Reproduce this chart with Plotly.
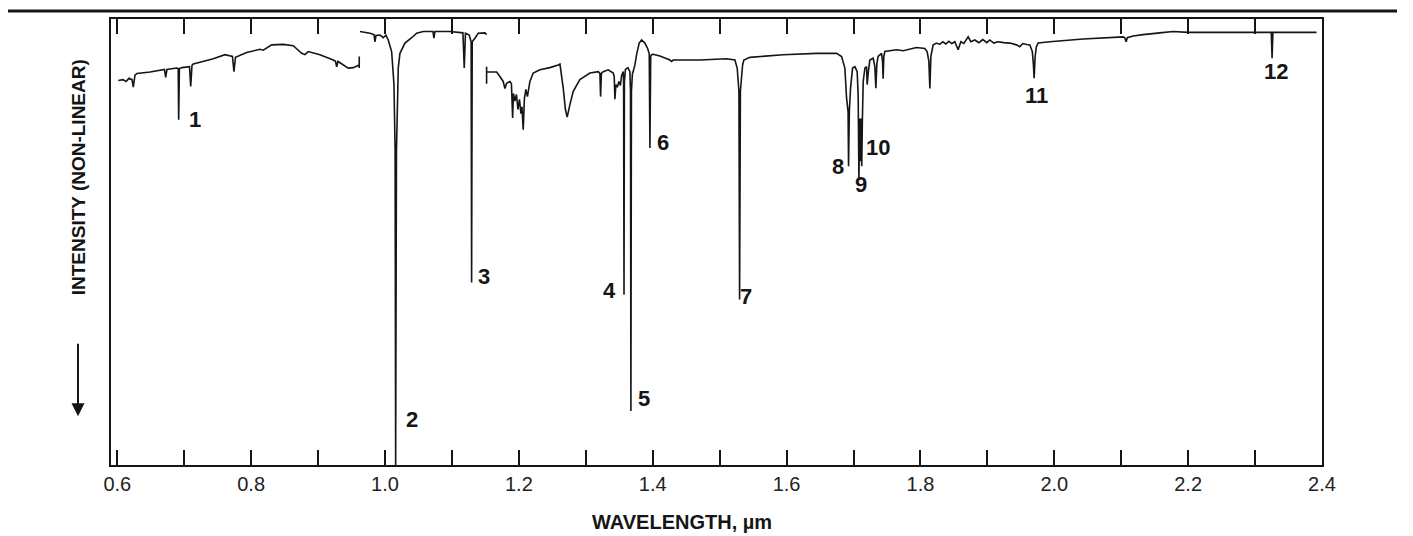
import plotly.graph_objects as go

# ---- data (wavelength in micrometres, relative intensity 0-100, non-linear) ----
seg1_wl = [0.6015, 0.6085, 0.6130, 0.6175, 0.6220, 0.6239, 0.6264, 0.6294, 0.6489, 0.6705,
           0.6723, 0.6742, 0.6887, 0.6910, 0.6917, 0.6928, 0.6967, 0.7079, 0.7097, 0.7116,
           0.7135, 0.7235, 0.7434, 0.7609, 0.7721, 0.7743, 0.7766, 0.7933, 0.8132, 0.8181,
           0.8307, 0.8480, 0.8629, 0.8755, 0.8804, 0.8853, 0.9028, 0.9227, 0.9260, 0.9278,
           0.9297, 0.9327, 0.9451, 0.9526, 0.9615, 0.9615, 0.9615]
seg1_int = [86.2, 86.4, 86.0, 86.7, 86.4, 84.7, 87.4, 87.8, 88.1, 88.7,
            86.9, 88.7, 89.0, 88.9, 77.4, 88.9, 89.1, 89.3, 84.9, 89.6,
            89.9, 90.3, 91.1, 92.0, 91.6, 88.2, 91.4, 92.5, 93.2, 93.0,
            94.2, 94.3, 94.0, 92.3, 92.0, 92.7, 92.0, 90.8, 90.5, 89.3,
            90.5, 90.2, 89.0, 89.1, 89.7, 91.6, 89.0]

seg2_wl = [0.9626, 0.9775, 0.9835, 0.9850, 0.9865, 0.9925, 0.9974, 1.0014, 1.0048, 1.0099,
           1.0134, 1.0151, 1.0159, 1.0171, 1.0198, 1.0223, 1.0298, 1.0398, 1.0473, 1.0571,
           1.0716, 1.0731, 1.0746, 1.0970, 1.1164, 1.1184, 1.1202, 1.1258, 1.1287, 1.1294,
           1.1303, 1.1343, 1.1393, 1.1493, 1.1518]
seg2_int = [97.2, 96.8, 96.5, 94.9, 96.3, 96.4, 95.8, 96.4, 95.3, 92.7,
            85.3, 70.4, 0.0, 70.4, 89.0, 92.3, 94.6, 95.8, 96.8, 97.2,
            97.2, 95.7, 97.2, 97.2, 96.9, 89.0, 96.8, 96.4, 94.9, 40.9,
            94.9, 95.7, 96.8, 96.9, 96.5]

seg3_wl = [1.1518, 1.1518, 1.1518, 1.1668, 1.1717, 1.1766, 1.1792, 1.1817, 1.1867, 1.1889,
           1.1907, 1.1919, 1.1941, 1.1964, 1.1986, 1.2009, 1.2031, 1.2046, 1.2065, 1.2083,
           1.2105, 1.2128, 1.2165, 1.2215, 1.2315, 1.2464, 1.2588, 1.2614, 1.2663, 1.2696,
           1.2722, 1.2763, 1.2812, 1.2912, 1.3062, 1.3186, 1.3211, 1.3221, 1.3233, 1.3260,
           1.3335, 1.3410, 1.3425, 1.3435, 1.3450, 1.3472, 1.3494, 1.3517, 1.3535, 1.3559,
           1.3565, 1.3571, 1.3577, 1.3592, 1.3629, 1.3659, 1.3668, 1.3674, 1.3682, 1.3697,
           1.3708, 1.3734, 1.3759, 1.3798, 1.3834, 1.3883, 1.3924, 1.3948, 1.3958, 1.3970,
           1.3983, 1.4007, 1.4107, 1.4257, 1.4282, 1.4306, 1.4705, 1.5104, 1.5228, 1.5262,
           1.5288, 1.5298, 1.5310, 1.5343, 1.5362, 1.5452, 1.5949, 1.6448, 1.6747, 1.6822,
           1.6871, 1.6896, 1.6919, 1.6926, 1.6938, 1.6956, 1.6986, 1.7021, 1.7055, 1.7070,
           1.7081, 1.7093, 1.7103, 1.7114, 1.7123, 1.7133, 1.7145, 1.7170, 1.7195, 1.7204,
           1.7222, 1.7244, 1.7294, 1.7319, 1.7334, 1.7349, 1.7368, 1.7419, 1.7434, 1.7443,
           1.7453, 1.7468, 1.7643, 1.7742, 1.7942, 1.8066, 1.8100, 1.8126, 1.8141, 1.8156,
           1.8190, 1.8240, 1.8290, 1.8335, 1.8379, 1.8424, 1.8469, 1.8514, 1.8563, 1.8604,
           1.8648, 1.8713, 1.8753, 1.8813, 1.8873, 1.8933, 1.8992, 1.9036, 1.9096, 1.9156,
           1.9246, 1.9335, 1.9436, 1.9485, 1.9530, 1.9590, 1.9635, 1.9672, 1.9687, 1.9699,
           1.9714, 1.9732, 1.9759, 1.9933, 2.0431, 2.1029, 2.1054, 2.1073, 2.1091, 2.1178,
           2.1327, 2.1577, 2.1775, 2.2000, 2.3242, 2.3254, 2.3266, 2.3918]
seg3_int = [89.3, 85.5, 88.1, 88.1, 87.1, 86.0, 84.4, 85.6, 86.0, 85.5,
            77.8, 83.3, 81.6, 83.1, 79.7, 82.0, 78.8, 80.3, 75.2, 82.2,
            84.2, 82.6, 86.0, 87.9, 88.6, 89.1, 89.7, 89.9, 84.5, 79.7,
            78.0, 80.8, 83.8, 86.4, 87.9, 88.2, 87.8, 82.6, 87.8, 88.2,
            88.6, 87.9, 87.1, 82.0, 85.3, 84.7, 86.0, 85.1, 87.3, 88.2,
            86.0, 38.2, 86.0, 88.7, 89.1, 88.2, 83.8, 12.1, 83.8, 87.8,
            88.2, 89.7, 92.0, 94.6, 95.3, 94.6, 93.4, 92.2, 71.1, 91.6,
            92.0, 92.1, 91.7, 90.8, 90.5, 90.8, 90.8, 91.1, 90.8, 89.0,
            83.8, 37.1, 83.8, 89.7, 90.8, 91.4, 92.0, 92.3, 92.3, 91.6,
            89.0, 82.3, 79.3, 67.0, 79.3, 84.5, 89.0, 89.3, 88.2, 82.6,
            64.3, 77.7, 68.1, 77.7, 67.0, 77.7, 86.0, 89.0, 89.3, 85.3,
            88.2, 90.8, 91.2, 89.3, 84.5, 90.0, 91.6, 92.3, 90.5, 86.6,
            91.6, 92.7, 93.1, 92.9, 93.6, 93.4, 92.7, 90.5, 84.4, 91.6,
            94.2, 94.6, 94.3, 94.9, 94.4, 95.0, 94.5, 94.9, 93.1, 94.9,
            94.5, 96.0, 94.9, 95.3, 94.7, 95.4, 94.7, 95.3, 94.6, 94.9,
            94.7, 94.6, 94.2, 93.8, 94.5, 94.3, 94.2, 92.7, 90.0, 86.7,
            91.6, 93.8, 94.6, 94.9, 95.5, 96.0, 95.8, 94.9, 95.8, 96.2,
            96.5, 96.9, 97.2, 97.0, 97.0, 91.2, 97.0, 97.0]

line_numbers = ["1", "2", "3", "4", "5", "6", "7", "8", "9", "10", "11", "12"]
label_wl = [0.7162, 1.0407, 1.1483, 1.3360, 1.3873, 1.4157, 1.5392, 1.6771, 1.7110, 1.7368, 1.9735, 2.3320]
label_int = [77.5, 10.2, 42.2, 39.1, 15.0, 72.2, 37.7, 67.0, 63.0, 71.1, 82.9, 88.2]

tick_vals = [0.6, 0.7, 0.8, 0.9, 1.0, 1.1, 1.2, 1.3, 1.4, 1.5, 1.6, 1.7, 1.8, 1.9, 2.0, 2.1, 2.2, 2.3, 2.4]
tick_text = ["0.6", "", "0.8", "", "1.0", "", "1.2", "", "1.4", "", "1.6", "", "1.8", "", "2.0", "", "2.2", "", "2.4"]

x_title = "WAVELENGTH, µm"
y_title = "INTENSITY (NON-LINEAR)"

# ---- figure ----
fig = go.Figure()
for wl, inten in [(seg1_wl, seg1_int), (seg2_wl, seg2_int), (seg3_wl, seg3_int)]:
    fig.add_trace(go.Scatter(x=wl, y=inten, mode="lines",
                             line=dict(color="#151515", width=1.6, simplify=False),
                             hoverinfo="skip", showlegend=False))

label_font = dict(family="Liberation Sans Narrow, Liberation Sans, Arial", size=22, color="#151515")
for t, xv, yv in zip(line_numbers, label_wl, label_int):
    fig.add_annotation(x=xv, y=yv, text="<b>%s</b>" % t, showarrow=False,
                       font=label_font, xanchor="center", yanchor="middle")

# the page body adds an 8 px offset; lay the figure out in target-pixel terms minus that offset
OFF = 8
W, H = 1413 - OFF, 536 - OFF
L, R, T, B = 111 - OFF, 1413 - 1322, 17 - OFF, 536 - 465
pw = W - L - R
ph = H - T - B

def px(xp):
    return (xp - OFF - L) / pw

def py(yp):
    return (H - B - (yp - OFF)) / ph

# axis titles
fig.add_annotation(x=px(682), y=py(522), xref="paper", yref="paper", text="<b>%s</b>" % x_title,
                   showarrow=False, font=dict(family="Liberation Sans, Arial", size=20, color="#151515"),
                   xanchor="center", yanchor="middle")
fig.add_annotation(x=px(78), y=py(176), xref="paper", yref="paper", text="<b>%s</b>" % y_title,
                   showarrow=False, textangle=-90,
                   font=dict(family="Liberation Sans, Arial", size=19, color="#151515"),
                   xanchor="center", yanchor="middle")
# downward arrow
fig.add_annotation(x=px(78), y=py(416), xref="paper", yref="paper", ax=0, ay=-74,
                   text="", showarrow=True, arrowhead=2, arrowsize=1.3, arrowwidth=2, arrowcolor="#151515")

# top rule
fig.add_shape(type="line", xref="paper", yref="paper", x0=px(OFF), x1=px(1397), y0=py(9), y1=py(9),
              line=dict(color="#151515", width=3))

fig.update_layout(
    width=W, height=H,
    margin=dict(l=L, r=R, t=T, b=B),
    paper_bgcolor="white", plot_bgcolor="white",
    xaxis=dict(range=[0.5906, 2.4], tickvals=tick_vals, ticktext=tick_text,
               ticks="inside", ticklen=15, tickwidth=1.5, tickcolor="#151515",
               showline=True, linecolor="#151515", linewidth=1.5, mirror="ticks",
               showgrid=False, zeroline=False,
               tickfont=dict(family="Liberation Sans, Arial", size=20, color="#222")),
    yaxis=dict(range=[0, 100], showticklabels=False, ticks="",
               showline=True, linecolor="#151515", linewidth=1.5, mirror=True,
               showgrid=False, zeroline=False),
)

fig.write_html("out.html")
